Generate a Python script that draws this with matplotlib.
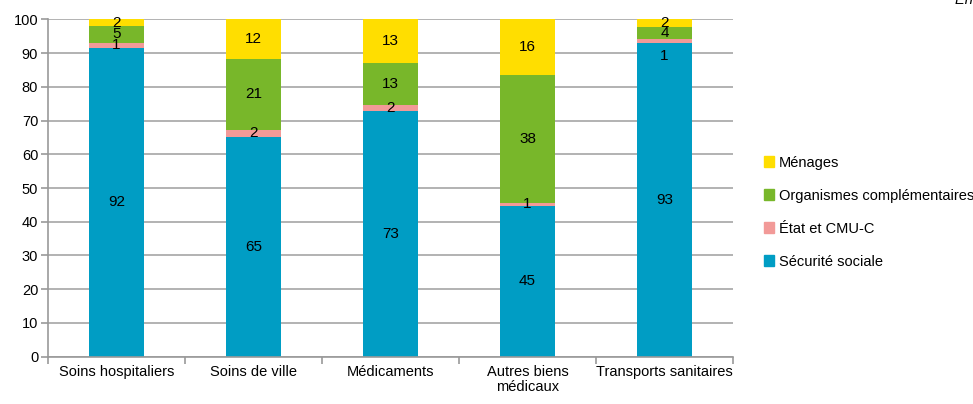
import numpy as np
import matplotlib.pyplot as plt
from matplotlib.patches import Patch

plt.rcParams['font.family'] = ['Liberation Sans', 'DejaVu Sans']
FS = 10.5

categories = ['Soins hospitaliers', 'Soins de ville', 'Médicaments',
              'Autres biens\nmédicaux', 'Transports sanitaires']
secu = [91.6, 65.2, 72.8, 44.7, 93.0]
etat = [1.4, 2.0, 1.7, 0.9, 1.1]
orga = [5.1, 21.1, 12.6, 38.0, 3.6]
menages = [1.9, 11.7, 12.9, 16.4, 2.3]

series = [('Sécurité sociale', secu, '#009DC4'),
          ('État et CMU-C', etat, '#F29A98'),
          ('Organismes complémentaires', orga, '#78B72A'),
          ('Ménages', menages, '#FFDE00')]

fig = plt.figure(figsize=(9.73, 4.04), dpi=100)
ax = fig.add_axes([0.0493, 0.1171, 0.7040, 0.8351])

x = np.arange(len(categories))
bottom = np.zeros(len(categories))
for name, vals, col in series:
    vals = np.array(vals)
    ax.bar(x, vals, 0.4, bottom=bottom, color=col, zorder=2)
    for i, v in enumerate(vals):
        yc = bottom[i] + v / 2
        # label of the small pink piece for transports sits lower in the original
        if name == 'État et CMU-C' and i == 4:
            yc -= 4.5
        ax.text(x[i], yc, '%.0f' % v, ha='center', va='center',
                fontsize=FS + 0.5, color='black', zorder=3)
    bottom += vals

ax.set_xlim(-0.5, len(categories) - 0.5)
ax.set_ylim(0, 100)
ax.set_yticks(range(0, 101, 10))
ax.yaxis.grid(True, color='#A6A6A6', linewidth=1.2, zorder=0)
ax.set_xticks(x)
ax.set_xticklabels(categories, fontsize=FS, linespacing=1.1)
ax.set_xticks(np.arange(-0.5, len(categories)), minor=True)
ax.tick_params(axis='x', which='major', length=0, pad=6)
ax.tick_params(axis='x', which='minor', length=5, color='#999999', width=1.2)
ax.tick_params(axis='y', length=5, color='#999999', width=1.2, labelsize=FS, pad=2)
for s in ['top', 'right']:
    ax.spines[s].set_visible(False)
for s in ['left', 'bottom']:
    ax.spines[s].set_color('#999999')
    ax.spines[s].set_linewidth(1.2)

handles = [Patch(color=c, label=n) for n, v, c in series[::-1]]
fig.legend(handles=handles, loc='center left', bbox_to_anchor=(0.772, 0.475),
           frameon=False, fontsize=FS, handlelength=0.7, handleheight=0.7,
           handletextpad=0.3, labelspacing=1.3)

fig.text(0.981, 0.99, 'En %', fontsize=FS, style='italic', va='baseline')

fig.savefig('out.png', dpi=100)
